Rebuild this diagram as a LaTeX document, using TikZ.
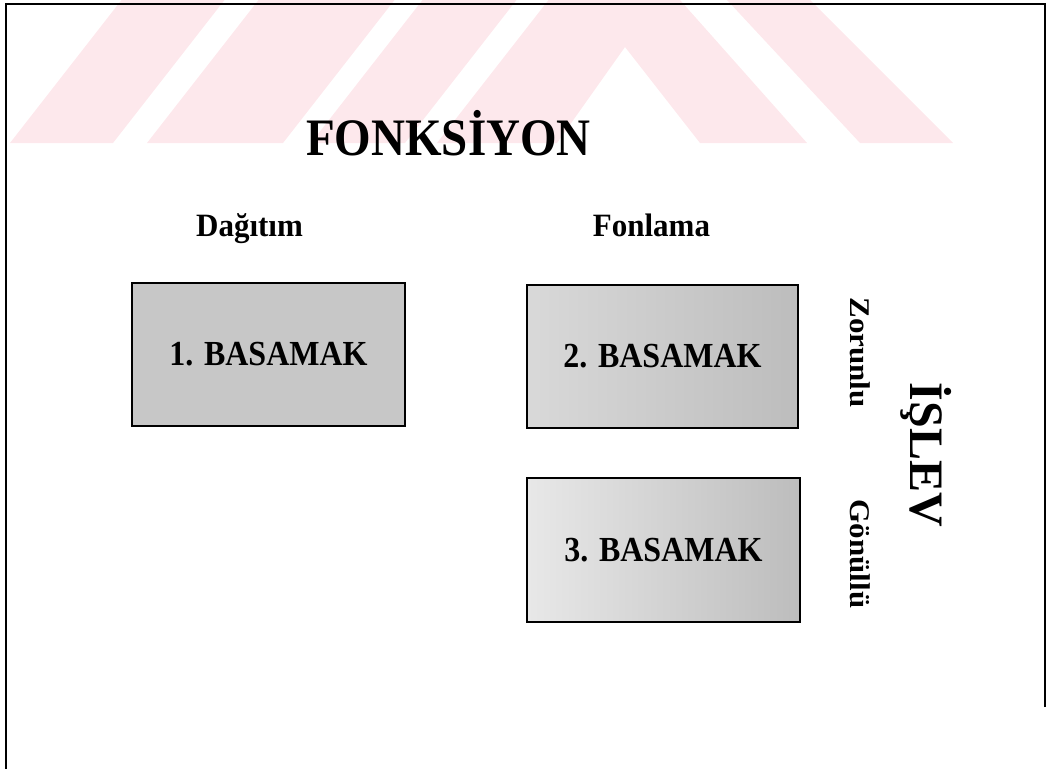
\documentclass[tikz,border=0pt]{standalone}
\usepackage{fontspec}
\setmainfont{Liberation Serif}
\usepackage{graphicx}
\definecolor{wm}{RGB}{253,232,236}
\begin{document}
\begin{tikzpicture}[x=1pt,y=-1pt,
  lbl/.style={inner sep=0pt, anchor=base},
  bigfont/.style={font=\bfseries\fontsize{47}{56}\selectfont},
  midfont/.style={font=\bfseries\fontsize{31}{37}\selectfont},
  boxfont/.style={font=\bfseries\fontsize{32}{38}\selectfont},
  stepbox/.style={draw=black, line width=2pt, inner sep=0pt, boxfont},
  frameline/.style={line width=2pt, black},
  ]
\useasboundingbox (0,0) rectangle (1049,769);
% watermark
\fill[wm] (10,143) -- (121.5,0) -- (224.5,0) -- (113,143) -- cycle;
\fill[wm] (147,143) -- (258.5,0) -- (394.5,0) -- (283,143) -- cycle;
\fill[wm] (311,143) -- (422.5,0) -- (516.5,0) -- (405,143) -- cycle;
\fill[wm] (437,143) -- (548.5,0) -- (680,0) -- (807,143) -- (700,143) -- (625,47) -- (557,143) -- cycle;
\fill[wm] (727,0) -- (810,0) -- (953,143) -- (860,143) -- cycle;
% frame
\draw[frameline] (1045,707) -- (1045,4) -- (6,4) -- (6,769);
% title and headings
\node[lbl, bigfont] (title) at (448.5,155) {\scalebox{1}[1.12]{FONKSİYON}};
\node[lbl, midfont] (dag) at (249.5,236) {\scalebox{1}[1.05]{Dağıtım}};
\node[lbl, midfont] (fon) at (651.5,236) {\scalebox{1}[1.05]{Fonlama}};
% boxes
\node[stepbox, fill=black!22, minimum width=273pt, minimum height=143pt] (b1) at (268.5,354.5) {\scalebox{1}[1.1]{1. BASAMAK}};
\node[stepbox, left color=black!15, right color=black!26, minimum width=271pt, minimum height=143pt] (b2) at (662.5,356.5) {\scalebox{1}[1.1]{2. BASAMAK}};
\node[stepbox, left color=black!9, right color=black!26, minimum width=273pt, minimum height=144pt] (b3) at (663.5,550) {\scalebox{1}[1.1]{3. BASAMAK}};
% rotated labels
\node[lbl, midfont, rotate=-90] (zor) at (850,352.5) {\scalebox{1}[0.92]{Zorunlu}};
\node[lbl, midfont, rotate=-90] (gon) at (850,554) {\scalebox{1}[0.92]{Gönüllü}};
\node[lbl, rotate=-90, font=\bfseries\fontsize{48}{56}\selectfont] (islev) at (910,455) {İŞLEV};
\end{tikzpicture}
\end{document}
